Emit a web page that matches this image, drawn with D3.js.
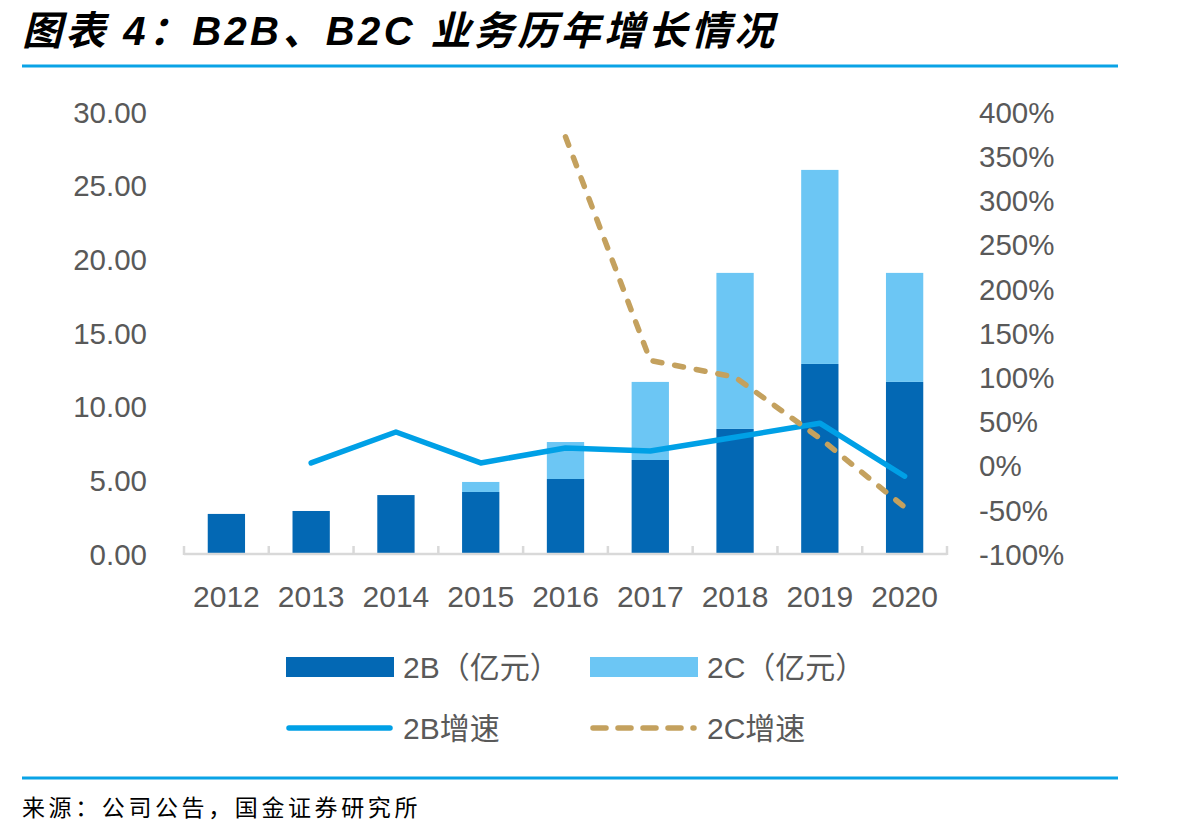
<!DOCTYPE html>
<html>
<head>
<meta charset="utf-8">
<script src="https://cdn.jsdelivr.net/npm/d3@7"></script>
<style>
  body { margin: 0; background: #fff; }
  svg { display: block; }
</style>
</head>
<body>
<svg id="chart" width="1201" height="838"></svg>
<script>
const years = ["2012", "2013", "2014", "2015", "2016", "2017", "2018", "2019", "2020"]
// 亿元
const toB = [2.72, 2.92, 4.00, 4.21, 5.09, 6.38, 8.49, 12.90, 11.68]
const toC = [0, 0, 0, 0.68, 2.51, 5.30, 10.59, 13.17, 7.40]
// 增速 %, null = no point
const toBGrowth = [null, 3, 38, 3, 20, 16.5, 32, 48, -12]
const toCGrowth = [null, null, null, null, 372, 119, 100, 31, -47]
const leftTicks = [0, 5, 10, 15, 20, 25, 30]
const rightTicks = [-100, -50, 0, 50, 100, 150, 200, 250, 300, 350, 400]

const darkBlue = "#0368B4"
const lightBlue = "#6CC6F4"
const lineBlue = "#00A0E6"
const tan = "#C4A15E"
const textGray = "#595959"

const svg = d3.select("#chart")

// title + rules
svg.append("text")
  .attr("x", 22).attr("y", 45)
  .attr("font-family", "'Liberation Sans', 'Noto Sans CJK SC', sans-serif")
  .attr("font-size", 40)
  .attr("font-weight", "bold")
  .attr("font-style", "italic")
  .attr("fill", "#000")
  .attr("textLength", 752)
  .attr("lengthAdjust", "spacing")
  .text("图表 4：B2B、B2C 业务历年增长情况")

svg.append("line")
  .attr("x1", 22).attr("x2", 1118).attr("y1", 66).attr("y2", 66)
  .attr("stroke", "#0AA3E6").attr("stroke-width", 3)
svg.append("line")
  .attr("x1", 22).attr("x2", 1118).attr("y1", 778).attr("y2", 778)
  .attr("stroke", "#0AA3E6").attr("stroke-width", 3)

svg.append("text")
  .attr("x", 22).attr("y", 816)
  .attr("font-family", "'Noto Sans CJK SC', sans-serif")
  .attr("font-size", 23)
  .attr("letter-spacing", 3.6)
  .attr("fill", "#000")
  .text("来源：公司公告，国金证券研究所")

// scales
const x = d3.scaleBand()
  .domain(years)
  .range([184, 947])
  .paddingInner(0.56)
  .paddingOuter(0.28)

const y = d3.scaleLinear().domain([0, 30]).range([554, 112])
const y2 = d3.scaleLinear().domain([-100, 400]).range([554, 112])

const font = "'Liberation Sans', Arial, sans-serif"

// left axis
const leftAxis = svg.append("g")
  .attr("transform", "translate(147,0)")
  .call(d3.axisLeft(y).tickValues(leftTicks).tickSize(0).tickPadding(0)
    .tickFormat(d3.format(".2f")))
leftAxis.select(".domain").remove()
leftAxis.selectAll("text")
  .attr("font-family", font).attr("font-size", 29.5).attr("fill", textGray)
  .attr("dy", "0.35em")

// right axis
const rightAxis = svg.append("g")
  .attr("transform", "translate(979,0)")
  .call(d3.axisRight(y2).tickValues(rightTicks).tickSize(0).tickPadding(0)
    .tickFormat(d => d + "%"))
rightAxis.select(".domain").remove()
rightAxis.selectAll("text")
  .attr("font-family", font).attr("font-size", 29.5).attr("fill", textGray)
  .attr("dy", "0.35em")

// bars
const stackData = years.map((yr, i) => ({ year: yr, b: toB[i], c: toC[i] }))
const series = d3.stack().keys(["b", "c"])(stackData)
const barColor = { b: darkBlue, c: lightBlue }

svg.append("g").selectAll("g")
  .data(series)
  .join("g")
    .attr("fill", d => barColor[d.key])
  .selectAll("rect")
  .data(d => d.filter(p => p[1] - p[0] > 0))
  .join("rect")
    .attr("x", d => x(d.data.year))
    .attr("width", x.bandwidth())
    .attr("y", d => y(d[1]))
    .attr("height", d => y(d[0]) - y(d[1]))

// bottom axis
const bottomAxis = svg.append("g")
  .attr("transform", "translate(0,554)")
  .call(d3.axisBottom(x).tickSize(0).tickPadding(42))
bottomAxis.select(".domain").remove()
bottomAxis.selectAll("text")
  .attr("font-family", font).attr("font-size", 30).attr("fill", textGray)
  .attr("dy", "0.35em")

const step = x.step()
const bounds = d3.range(years.length + 1).map(i => 184 + i * step)
svg.append("line")
  .attr("x1", bounds[0]).attr("x2", bounds[bounds.length - 1])
  .attr("y1", 554).attr("y2", 554)
  .attr("stroke", "#D9D9D9").attr("stroke-width", 2.5)
svg.append("g").selectAll("line")
  .data(bounds)
  .join("line")
    .attr("x1", d => d).attr("x2", d => d)
    .attr("y1", 546).attr("y2", 555)
    .attr("stroke", "#D9D9D9").attr("stroke-width", 2.5)

// growth lines
const cx = yr => x(yr) + x.bandwidth() / 2
const growthLine = d3.line()
  .defined(d => d.v !== null)
  .x(d => cx(d.year))
  .y(d => y2(d.v))

svg.append("path")
  .datum(years.map((yr, i) => ({ year: yr, v: toBGrowth[i] })))
  .attr("d", growthLine)
  .attr("fill", "none")
  .attr("stroke", lineBlue)
  .attr("stroke-width", 5.5)
  .attr("stroke-linecap", "round")
  .attr("stroke-linejoin", "round")

svg.append("path")
  .datum(years.map((yr, i) => ({ year: yr, v: toCGrowth[i] })))
  .attr("d", growthLine)
  .attr("fill", "none")
  .attr("stroke", tan)
  .attr("stroke-width", 5.5)
  .attr("stroke-dasharray", "9,13")
  .attr("stroke-linecap", "round")
  .attr("stroke-linejoin", "round")

// legend
const legend = svg.append("g")
  .attr("font-family", "'Liberation Sans', 'Noto Sans CJK SC', sans-serif")
  .attr("font-size", 30)
  .attr("fill", textGray)

const legendItems = [
  { label: "2B（亿元）", type: "rect", color: darkBlue, lx: 286, ly: 667 },
  { label: "2C（亿元）", type: "rect", color: lightBlue, lx: 590, ly: 667 },
  { label: "2B增速", type: "line", color: lineBlue, lx: 286, ly: 728 },
  { label: "2C增速", type: "dash", color: tan, lx: 590, ly: 728 }
]

legendItems.forEach(item => {
  if (item.type === "rect") {
    legend.append("rect")
      .attr("x", item.lx).attr("y", item.ly - 10)
      .attr("width", 108).attr("height", 20)
      .attr("fill", item.color)
  } else {
    legend.append("line")
      .attr("x1", item.lx + 3).attr("x2", item.lx + 104)
      .attr("y1", item.ly).attr("y2", item.ly)
      .attr("stroke", item.color)
      .attr("stroke-width", 5.5)
      .attr("stroke-linecap", "round")
      .attr("stroke-dasharray", item.type === "dash" ? "13,12" : null)
  }
  legend.append("text")
    .attr("x", item.lx + 117).attr("y", item.ly)
    .attr("dy", "0.36em")
    .text(item.label)
})
</script>
</body>
</html>
